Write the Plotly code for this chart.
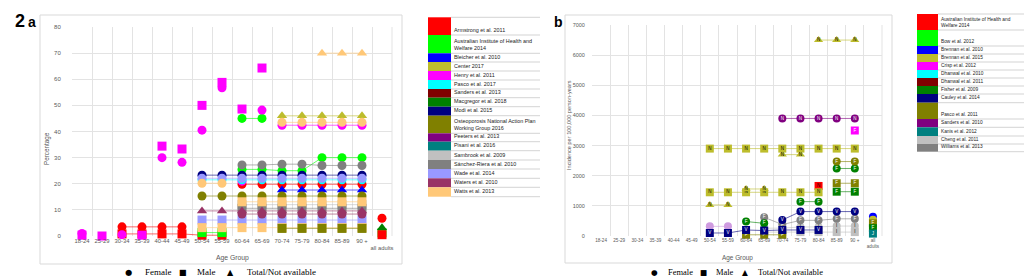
import plotly.graph_objects as go

N = None
cats = ["18-24", "25-29", "30-34", "35-39", "40-44", "45-49", "50-54", "55-59",
        "60-64", "65-69", "70-74", "75-79", "80-84", "85-89", "90 +", "all adults"]
ticks_a = cats[:-1] + ["<br>all adults"]
ticks_b = cats[:-1] + ["all<br>adults"]

# ---------------- Panel a: percentage ----------------
armstrong_f = [N, N, 3.5, 3.5, 3.5, 3.5, N, N, 19.8, 19.8, 19.8, 19.8, 19.8, 19.8, 19.8, N]
armstrong_m = [N, N, 0.8, 0.8, 0.8, 0.8, 0.3, 0.3, N, N, N, N, N, N, N, N]
armstrong_all_f = [N] * 15 + [6.8]
armstrong_all_m = [N] * 15 + [0.5]
aihw_f_hi = [N] * 8 + [45, 45] + [N] * 6
aihw_f = [N] * 8 + [25.5, 25.5, 25, 25, 30, 30, 30, N]
aihw_m = [N] * 6 + [1.3, 1.3] + [N] * 8
aihw_all_m = [N] * 15 + [1.2]
bleicher_t = [N] * 10 + [17.6] * 5 + [N]
center_t = [N] * 10 + [46] * 5 + [N]
henry_f = [1, N, 0.5, N, 30, 28.2, 40.5, 56.7, 21, 48.2, N, N, N, N, N, N]
henry_f_old = [N] * 10 + [42.4] * 5 + [N]
henry_m = [0.3, 0, N, 0.3, 34.4, 33.3, 50, 58.8, 48.6, 64.3, N, N, N, N, N, N]
pasco17_f = [N] * 6 + [21.5] * 9 + [N]
macgregor_all_t = [N] * 15 + [3.2]
modi_f = [N] * 6 + [23.3] * 9 + [N]
nap_f = [N] * 6 + [15.3] * 9 + [N]
nap_m = [N] * 10 + [2.9] * 5 + [N]
sambrook_m = [N] * 8 + [12] * 7 + [N]
sanchez_f = [N] * 8 + [27.2, 27.2, 27.5, 27.5, 27, 27, 27] + [N]
sanchez_m = [N] * 8 + [10.6] * 7 + [N]
wade_f = [N] * 6 + [22.1] * 9 + [N]
wade_m = [N] * 6 + [6.1] * 9 + [N]
waters_t = [N] * 6 + [9.6] * 9 + [N]
waters_f = [N] * 8 + [8.4] * 7 + [N]
watts_f = [N] * 6 + [20.2, 20.2] + [N] * 8
watts_f_old = [N] * 10 + [43.5] * 5 + [N]
watts_t = [N] * 12 + [70] * 3 + [N]
watts_m = [N] * 8 + [13.1] * 7 + [N]
watts_m_low = [N] * 6 + [3.2] * 9 + [N]

# ---------------- Panel b: incidence per 100,000 ----------------
aihw_b_m = [N] * 12 + [1660] + [N] * 3
brennan10_all = [N] * 15 + [640]
brennan15_m_hi = [N] * 6 + [2900] * 9 + [N]
brennan15_m = [N] * 6 + [1450] * 7 + [N] * 3
brennan15_t1 = [N] * 6 + [1030, 1030] + [N] * 8
brennan15_t2 = [N] * 8 + [1560, 1560] + [N] * 6
brennan15_t3 = [N] * 10 + [2700, 2700] + [N] * 4
brennan15_t4 = [N] * 12 + [6500] * 3 + [N]
brennan15_all = [N] * 15 + [540]
crisp_f = [N] * 6 + [320, 320] + [N] * 8
crisp_m = [N] * 14 + [3500] + [N]
fisher_f_hi = [N] * 13 + [2240, 2240] + [N]
fisher_m = [N] * 13 + [1470, 1470] + [N]
fisher_f_mid = [N] * 11 + [1140, 1140] + [N] * 3
fisher_f_lo = [N] * 8 + [480, 420] + [N] * 6
fisher_all = [N] * 15 + [260]
cauley_f = [N] * 10 + [530, 810, 810, 810, 810] + [N]
cauley_m = [N] * 6 + [100, 100, 200, 180, 200, 200, 200] + [N] * 3
pasco11_f = [N] * 13 + [2470, 2470] + [N]
pasco11_m = [N] * 13 + [1750, 1750] + [N]
pasco11_m_lo = [N] * 8 + [40, 40, 40] + [N] * 5
pasco11_all = [N] * 15 + [420]
sanders10_f = [N] * 10 + [3900] * 5 + [N]
kanis_all = [N] * 15 + [80]
cheng_f = [N] * 9 + [260, 260, 300, 300, 330, 330] + [N]
cheng_m = [N] * 9 + [130] * 6 + [N]
williams_f = [N] * 9 + [620, 380, 520, 520, 570, 570] + [N]

W, H = 1024, 278


def px(x):
    return x / W


def py(y):
    return 1 - y / H


def rgba(hexc, a):
    hexc = hexc.lstrip("#")
    r, g, b = int(hexc[0:2], 16), int(hexc[2:4], 16), int(hexc[4:6], 16)
    return f"rgba({r},{g},{b},{a})"


fig = go.Figure()


def add(ax, vals, color, symbol, size, lines=True, letter=None, tcolor="white", lalpha=0.6):
    mode = "lines+markers" if lines else "markers"
    if letter:
        mode += "+text"
    xa, ya = ("x", "y") if ax == "a" else ("x2", "y2")
    fig.add_trace(go.Scatter(
        x=cats, y=vals, xaxis=xa, yaxis=ya, mode=mode,
        marker=dict(color=color, symbol=symbol, size=size, line=dict(width=0)),
        line=dict(color=rgba(color, lalpha), width=1),
        text=[letter if v is not None else "" for v in vals] if letter else None,
        textposition="middle center",
        textfont=dict(size=4.5, color=tcolor, family="Liberation Sans"),
        cliponaxis=False, showlegend=False, hoverinfo="skip", connectgaps=False))


RED, GREEN, BLUE, YEL, MAG, CYAN = "#FF0000", "#00FF00", "#0000FF", "#BDBD2C", "#FF00FF", "#00FFFF"
DRED, DGREEN, NAVY, OLIVE, PURP, TEAL = "#800000", "#008000", "#000080", "#808000", "#800080", "#008080"
SILV, GRAY, PERI, PLUM, ORNG = "#C0C0C0", "#808080", "#9999FF", "#993366", "#FFC878"

C, S, T = "circle", "square", "triangle-up"
SZ = 9
# panel a traces
add("a", armstrong_f, RED, C, SZ)
add("a", armstrong_m, RED, S, SZ)
add("a", aihw_f_hi, GREEN, C, SZ)
add("a", aihw_f, GREEN, C, SZ)
add("a", aihw_m, GREEN, S, SZ)
add("a", aihw_all_m, GREEN, S, SZ)
add("a", armstrong_all_m, RED, S, SZ)
add("a", bleicher_t, BLUE, T, SZ)
add("a", center_t, YEL, T, SZ)
add("a", henry_f, MAG, C, SZ, lines=False)
add("a", henry_f_old, MAG, C, SZ)
add("a", henry_m, MAG, S, SZ, lines=False)
add("a", pasco17_f, CYAN, C, SZ)
add("a", macgregor_all_t, DGREEN, T, SZ)
add("a", armstrong_all_f, RED, C, SZ)
add("a", modi_f, NAVY, C, SZ)
add("a", nap_f, OLIVE, C, SZ)
add("a", sambrook_m, SILV, S, SZ)
add("a", sanchez_f, GRAY, C, SZ)
add("a", sanchez_m, GRAY, S, SZ)
add("a", wade_f, PERI, C, SZ)
add("a", wade_m, PERI, S, SZ)
add("a", waters_t, PLUM, T, SZ)
add("a", waters_f, PLUM, C, SZ)
add("a", watts_f, ORNG, C, SZ)
add("a", watts_f_old, ORNG, C, SZ)
add("a", watts_t, ORNG, T, SZ)
add("a", watts_m, ORNG, S, SZ)
add("a", watts_m_low, ORNG, S, SZ)
add("a", nap_m, OLIVE, S, SZ)

# panel b traces
SB = 8
add("b", aihw_b_m, RED, S, SB, letter="N", tcolor="black")
add("b", brennan10_all, BLUE, C, SB)
add("b", brennan15_m_hi, YEL, S, SB, letter="N", tcolor="black")
add("b", brennan15_m, YEL, S, SB, letter="N", tcolor="black")
add("b", brennan15_t1, YEL, T, SB, letter="N", tcolor="black")
add("b", brennan15_t2, YEL, T, SB, letter="N", tcolor="black")
add("b", brennan15_t3, YEL, T, SB, letter="N", tcolor="black")
add("b", brennan15_t4, YEL, T, SB, letter="N", tcolor="black")
add("b", brennan15_all, YEL, C, SB)
add("b", crisp_f, "#CF9BE0", C, SB)
add("b", crisp_m, MAG, S, SB, letter="F")
add("b", cheng_f, SILV, C, SB, letter="I", tcolor="black")
add("b", cheng_m, SILV, S, SB, letter="I", tcolor="black")
add("b", williams_f, GRAY, C, SB, letter="F")
add("b", fisher_f_hi, DGREEN, C, SB, letter="F")
add("b", fisher_m, DGREEN, S, SB, letter="F")
add("b", fisher_f_mid, DGREEN, C, SB, letter="F")
add("b", fisher_f_lo, DGREEN, C, SB, letter="F")
add("b", pasco11_f, OLIVE, C, SB, letter="F")
add("b", pasco11_m, OLIVE, S, SB, letter="F")
add("b", pasco11_m_lo, OLIVE, S, SB, letter="F")
add("b", pasco11_all, OLIVE, S, SB, letter="F")
add("b", fisher_all, DGREEN, S, SB, letter="F")
add("b", kanis_all, TEAL, S, SB, letter="J")
add("b", sanders10_f, PURP, C, SB, letter="N")
add("b", cauley_f, NAVY, C, SB, letter="V")
add("b", cauley_m, NAVY, S, SB, letter="V")

GRID = "#E3E3E3"
TICKC = "#595959"
FONT = "Liberation Sans"

xcommon = dict(type="category", categoryorder="array", categoryarray=cats, range=[-0.5, 15.5],
               tickson="boundaries", showgrid=True, gridcolor=GRID, gridwidth=1,
               tickvals=cats, ticks="outside", tickcolor="rgba(0,0,0,0)", zeroline=False,
               showline=False, fixedrange=True, tickangle=0, automargin=False)
fig.update_layout(
    width=W, height=H, margin=dict(l=0, r=0, t=0, b=0),
    paper_bgcolor="white", plot_bgcolor="white",
    font=dict(family=FONT, color=TICKC),
    xaxis=dict(xcommon, domain=[px(72), px(392)], anchor="y", ticktext=ticks_a, ticklen=5,
               tickfont=dict(size=5.8, color=TICKC)),
    yaxis=dict(domain=[py(236), py(27)], anchor="x", range=[0, 80], dtick=10, showgrid=True,
               gridcolor=GRID, zeroline=False, ticks="outside", ticklen=9, automargin=False,
               tickcolor="rgba(0,0,0,0)", tickfont=dict(size=6, color=TICKC)),
    xaxis2=dict(xcommon, domain=[px(592), px(882)], anchor="y2", ticktext=ticks_b, ticklen=5,
                tickfont=dict(size=4.6, color=TICKC)),
    yaxis2=dict(domain=[py(236), py(25)], anchor="x2", range=[0, 7000], dtick=1000, showgrid=True,
                gridcolor=GRID, zeroline=False, ticks="outside", ticklen=5, automargin=False,
                tickcolor="rgba(0,0,0,0)", tickfont=dict(size=5.5, color=TICKC)),
)

shapes = []
ann = []
# right edge gridlines
for x0 in (392, 882):
    shapes.append(dict(type="line", xref="paper", yref="paper", x0=px(x0), x1=px(x0),
                       y0=py(236), y1=py(27 if x0 == 392 else 25), line=dict(color=GRID, width=1),
                       layer="below"))
# chart frames
shapes.append(dict(type="rect", xref="paper", yref="paper", x0=px(40), x1=px(402), y0=py(264), y1=py(15),
                   line=dict(color="#D9D9D9", width=1)))
shapes.append(dict(type="rect", xref="paper", yref="paper", x0=px(565), x1=px(892), y0=py(263), y1=py(15),
                   line=dict(color="#D9D9D9", width=1)))


def text(x, y, s, size, xanchor="left", yanchor="middle", color="#000000", family=FONT, angle=0, bold=False):
    if bold:
        s = "<b>" + s + "</b>"
    ann.append(dict(xref="paper", yref="paper", x=px(x), y=py(y), text=s, showarrow=False,
                    xanchor=xanchor, yanchor=yanchor, textangle=angle, align="left",
                    font=dict(size=size, color=color, family=family)))


# panel labels and axis titles
text(13, 21, "2", 18, bold=True)
text(26, 22.5, "a", 14, bold=True)
text(552, 22, "b", 14, bold=True)
text(232, 258, "Age Group", 6.8, xanchor="center", color=TICKC)
text(47, 149, "Percentage", 6.3, xanchor="center", color=TICKC, angle=-90)
text(737, 258, "Age Group", 6.4, xanchor="center", color=TICKC)
text(569, 125, "Incidence per 100,000 person-years", 5.6, xanchor="center", color=TICKC, angle=-90)

# bottom key
SERIF = "Liberation Serif"
for (x0, sc) in ((128, 1.0), (654, 0.94)):
    fs = 9 * sc
    xs = [0, 15, 55, 67, 102, 117] if sc == 1.0 else [0, 12, 49, 60, 91, 102]
    text(x0 + xs[0], 272, "●", fs * 0.9, xanchor="center", family="DejaVu Sans")
    text(x0 + xs[1], 272, "Female", fs, family=SERIF)
    text(x0 + xs[2], 272, "■", fs * 0.9, xanchor="center", family="DejaVu Sans")
    text(x0 + xs[3], 272, "Male", fs, family=SERIF)
    text(x0 + xs[4], 272, "▲", fs * 0.9, xanchor="center", family="DejaVu Sans")
    text(x0 + xs[5], 272, "Total/Not available", fs, family=SERIF)

# legend tables
leg_a_names = ["Armstrong et al. 2011", "Australian Institute of Health and<br>Welfare 2014",
               "Bleicher et al. 2010", "Center 2017", "Henry et al. 2011", "Pasco et al. 2017",
               "Sanders et al. 2013", "Macgregor et al. 2018", "Modi et al. 2015",
               "Osteoporosis National Action Plan<br>Working Group 2016", "Peeters et al. 2013",
               "Pisani et al. 2016", "Sambrook et al. 2009", "Sánchez-Riera et al. 2010",
               "Wade et al. 2014", "Waters et al. 2010", "Watts et al. 2013"]
leg_a_colors = [RED, GREEN, BLUE, YEL, MAG, CYAN, DRED, DGREEN, NAVY, OLIVE, PURP, TEAL, SILV, GRAY,
                PERI, PLUM, ORNG]
leg_a_rows = [17.3, 35, 53.3, 62, 71, 80, 89, 97.7, 106.7, 115.7, 133.3, 141.7, 150.7, 160, 169,
              178.3, 187.3, 196.7]

leg_b_names = ["Australian Institute of Health and<br>Welfare 2014", "Bow et al. 2012",
               "Brennan et al. 2010", "Brennan et al. 2015", "Crisp et al. 2012", "Dhanwal et al. 2010",
               "Dhanwal et al. 2011", "Fisher et al. 2009", "Cauley et al. 2014", "Pasco et al. 2011",
               "Sanders et al. 2010", "Kanis et al. 2012", "Cheng et al. 2011", "Williams et al. 2013"]
leg_b_colors = [RED, GREEN, BLUE, YEL, MAG, CYAN, DRED, DGREEN, NAVY, OLIVE, PURP, TEAL, SILV, GRAY]
leg_b_rows = [14, 30, 46, 54, 62, 70, 78, 86, 94, 102.7, 119, 127.3, 136, 144, 151.7]


def legend(names, colors, rows, bx0, bx1, lx1, fs):
    for i, (nm, col) in enumerate(zip(names, colors)):
        top, bot = rows[i], rows[i + 1]
        shapes.append(dict(type="rect", xref="paper", yref="paper", x0=px(bx0), x1=px(bx1),
                           y0=py(bot), y1=py(top), fillcolor=col, line=dict(width=0)))
        text(bx1 + 1, bot - 0.3, nm, fs, yanchor="bottom", color="#222222")
    for r in rows:
        shapes.append(dict(type="line", xref="paper", yref="paper", x0=px(bx1), x1=px(lx1),
                           y0=py(r), y1=py(r), line=dict(color="#C8C8C8", width=0.8)))


legend(leg_a_names, leg_a_colors, leg_a_rows, 428, 451, 540, 5.4)
legend(leg_b_names, leg_b_colors, leg_b_rows, 917, 938, 1024, 4.8)

fig.update_layout(shapes=shapes, annotations=ann)
fig.write_html("out.html")
